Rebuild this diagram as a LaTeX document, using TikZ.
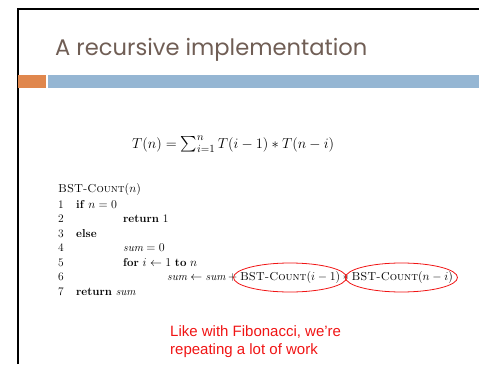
\documentclass[tikz,border=0pt]{standalone}
\usepackage{fontspec}
\usepackage{amsmath,amssymb}
\usetikzlibrary{positioning}
\newfontfamily\titlefont{Poppins}
\newfontfamily\notefont{Liberation Sans}
\definecolor{titleBrown}{RGB}{112,94,85}
\definecolor{barOrange}{RGB}{224,135,77}
\definecolor{barBlue}{RGB}{149,182,211}
\definecolor{noteRed}{RGB}{240,20,20}
\newcommand{\bstcount}{\textsc{BST-Count}}

\begin{document}
\begin{tikzpicture}[x=1pt, y=-1pt,
        frame/.style={draw=black, line width=2pt},
        codeln/.style={anchor=base west, inner sep=0pt,
                       font=\fontsize{11.5}{14}\selectfont},
        ring/.style={draw=noteRed, line width=0.8pt}
      ]
        \useasboundingbox (0,0) rectangle (479,364);
        % Slide frame and header bars
        \draw[frame] (18,364) |- (479,9);
        \fill[barOrange] (18,75) rectangle (46,88);
        \fill[barBlue] (48,75) rectangle (479,88);
        % Title
        \node[anchor=base west, inner sep=0pt, text=titleBrown,
              font=\titlefont\fontsize{22.6}{26}\selectfont] (title) at (55,55)
              {A recursive implementation};
        % Recurrence
        \node[anchor=base west, inner sep=0pt,
              font=\fontsize{15.5}{19}\selectfont] (recur) at (132,148)
              {$T(n) = \textstyle\sum_{i=1}^{n} T(i-1) * T(n-i)$};
        % Pseudocode
        \node[codeln] (head) at (58,192) {\bstcount$(n)$};
        \node[codeln] (n1) at (58,208) {1};
        \node[codeln] (n2) at (58,222.5) {2};
        \node[codeln] (n3) at (58,237) {3};
        \node[codeln] (n4) at (58,251.5) {4};
        \node[codeln] (n5) at (58,266) {5};
        \node[codeln] (n6) at (58,280.5) {6};
        \node[codeln] (n7) at (58,295) {7};
        \node[codeln] (l1) at (76,208) {\textbf{if} $n = 0$};
        \node[codeln] (l2) at (123,222.5) {\textbf{return} 1};
        \node[codeln] (l3) at (76,237) {\textbf{else}};
        \node[codeln] (l4) at (123,251.5) {$\mathit{sum} = 0$};
        \node[codeln] (l5) at (123,266) {\textbf{for} $i \gets 1$ \textbf{to} $n$};
        \node[codeln] (l6) at (167,280.5)
              {$\mathit{sum} \gets \mathit{sum} + \text{\bstcount}(i-1) * \text{\bstcount}(n-i)$};
        \node[codeln] (l7) at (76,295) {\textbf{return} $\mathit{sum}$};
        % Circled recursive calls
        \draw[ring] (290,277.5) ellipse (56.5 and 14.5);
        \draw[ring] (401.5,277.5) ellipse (56 and 14.5);
        % Note
        \node[anchor=north west, inner sep=0pt, align=left, text=noteRed,
              font=\notefont\fontsize{15}{18}\selectfont] (note) at (170,325)
              {Like with Fibonacci, we’re\\repeating a lot of work};
      \end{tikzpicture}
\end{document}
